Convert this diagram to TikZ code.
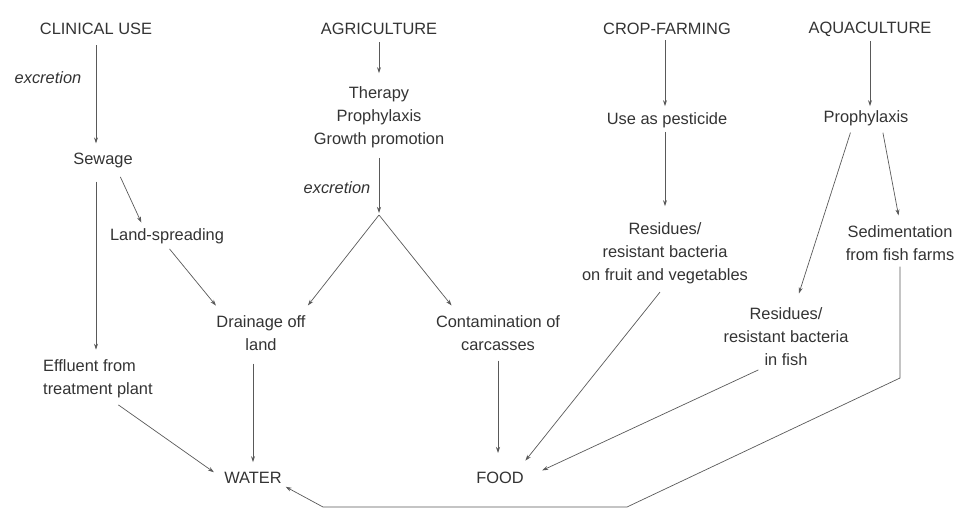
\documentclass[tikz,border=0pt]{standalone}
\usepackage{fontspec}
\setmainfont{Liberation Sans}
\usetikzlibrary{arrows.meta}

\begin{document}
\begin{tikzpicture}[x=1pt, y=-1pt,
  every node/.style={font=\fontsize{16.4}{23}\selectfont, text=black!80, inner sep=2pt, align=center},
  arr/.style={-{Stealth[length=6pt,width=4pt]}, draw=black!65, line width=0.7pt},
  note/.style={font=\fontsize{16.4}{23}\selectfont\itshape}]

\useasboundingbox (0,0) rectangle (959,509);

% Sources along the top
\foreach \x/\n/\t in {96/clin/CLINICAL USE, 379/agri/AGRICULTURE, 667/crop/CROP-FARMING, 870/aqua/AQUACULTURE} {
	\node (\n) at (\x,29) {\t};
}

% Clinical use branch
\node[note] (exc1) at (48,78) {excretion};
\node (sew) at (103,160) {Sewage};
\node (land) at (167,236) {Land-spreading};
\node[anchor=west, align=left] (eff) at (41,379) {Effluent from\\treatment plant};

% Agriculture branch
\node (ther) at (379,117) {Therapy\\Prophylaxis\\Growth promotion};
\node[note] (exc2) at (337,188) {excretion};
\coordinate (split) at (379,215);
\node (drain) at (261,333) {Drainage off\\land};
\node (cont) at (498,333) {Contamination of\\carcasses};

% Crop-farming branch
\node (pest) at (667,120) {Use as pesticide};
\node (resfv) at (665,253) {Residues/\\resistant bacteria\\on fruit and vegetables};

% Aquaculture branch
\node (proph) at (866,118) {Prophylaxis};
\node (resfish) at (786,337) {Residues/\\resistant bacteria\\in fish};
\node (sed) at (900,243) {Sedimentation\\from fish farms};

% Sinks
\node (water) at (253,478) {WATER};
\node (food) at (500,478) {FOOD};

% Clinical use arrows
\draw[arr, shorten <=8pt, shorten >=7pt] (clin.south) -- (clin.south |- sew.north);
\draw[arr, shorten <=8pt, shorten >=4pt] ([xshift=14pt]sew.south) -- ([xshift=-24pt]land.north);
\draw[arr, shorten <=12pt, shorten >=8pt] (clin.south |- sew.south) -- (clin.south |- eff.north);
\draw[arr, shorten <=4pt, shorten >=10pt] (land.south) -- ([xshift=8pt]drain.north west);
\draw[arr, shorten <=8pt, shorten >=10pt] ([xshift=14pt]eff.south) -- (water.west);

% Agriculture arrows
\draw[arr, shorten <=5pt, shorten >=11pt] (agri.south) -- (agri.south |- ther.north);
\draw[arr, shorten <=8pt, shorten >=2pt] (ther.south) -- (split);
\draw[arr, shorten >=10pt] (split) -- ([xshift=-6pt]drain.north east);
\draw[arr, shorten >=10pt] (split) -- ([xshift=24pt]cont.north west);
\draw[arr, shorten <=11pt, shorten >=8pt] (water |- drain.south) -- (water.north);
\draw[arr, shorten <=8pt, shorten >=17pt] (cont.south) -- (cont.south |- food.north);

% Crop-farming arrows
\draw[arr, shorten <=3pt, shorten >=4pt] (resfv.north |- crop.south) -- (resfv.north |- pest.north);
\draw[arr, shorten <=2pt, shorten >=14pt] (resfv.north |- pest.south) -- (resfv.north);
\draw[arr, shorten <=8pt, shorten >=12pt] (resfv.south) -- ([xshift=-8pt]food.north east);

% Aquaculture arrows
\draw[arr, shorten <=3pt, shorten >=2pt] (aqua.south) -- (aqua.south |- proph.north);
\draw[arr, shorten <=5pt, shorten >=13pt] ([xshift=-14pt]proph.south) -- ([xshift=9pt]resfish.north);
\draw[arr, shorten <=5pt, shorten >=8pt] ([xshift=16pt]proph.south) -- (sed.north);
\draw[arr, shorten <=4pt, shorten >=18pt] ([xshift=-24pt]resfish.south) -- (food.east);

% Sedimentation back to water
\coordinate (b1) at (900,378);
\coordinate (b2) at (627,507);
\coordinate (b3) at (323,507);
\draw[arr, shorten <=4pt, shorten >=2pt] (sed.south) -- (b1) -- (b2) -- (b3) -- (water.south east);

\end{tikzpicture}
\end{document}
